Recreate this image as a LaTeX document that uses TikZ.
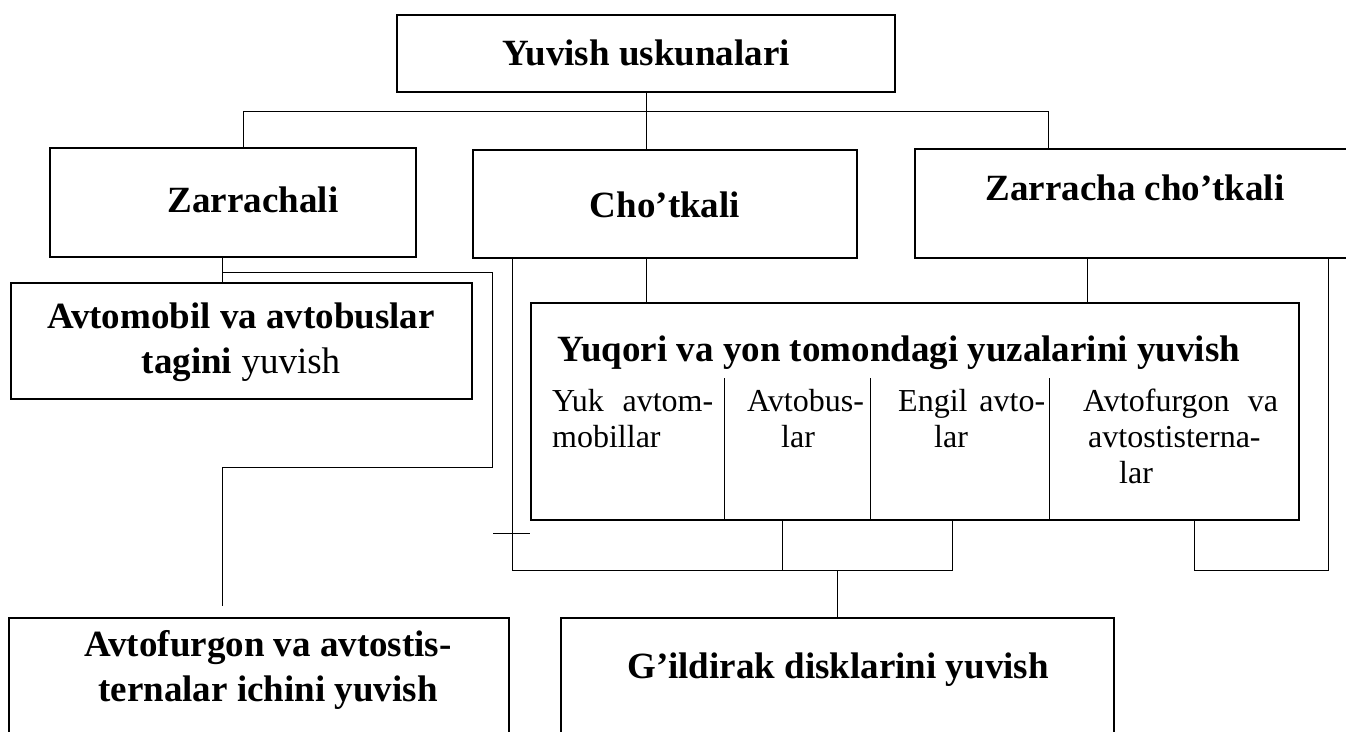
\documentclass[tikz,border=0pt]{standalone}
\usepackage{fontspec}
\setmainfont{Liberation Serif}
\usetikzlibrary{positioning,calc}

\tikzset{
  box/.style={draw, line width=1.6pt, inner sep=0pt},
  link/.style={line width=1pt},
  head/.style={font=\fontsize{37}{45}\selectfont\bfseries, align=center, inner sep=0pt},
  col/.style={font=\fontsize{32}{36}\selectfont, align=left, inner sep=0pt, anchor=north west},
}

\begin{document}
\begin{tikzpicture}[x=1pt,y=-1pt]
  \useasboundingbox (0,0) rectangle (1346,731);
  \clip (0,0) rectangle (1346,731);

  % boxes
  \node[box, minimum width=498pt, minimum height=77pt]  (top)  at (646,53.5) {};
  \node[box, minimum width=366pt, minimum height=109pt] (zarr) at (233,202.5) {};
  \node[box, minimum width=384pt, minimum height=108pt] (chot) at (665,204) {};
  \node[box, minimum width=455pt, minimum height=109pt] (zcho) at (1142.5,203.5) {};
  \node[box, minimum width=461pt, minimum height=116pt] (avto) at (241.5,341) {};
  \node[box, minimum width=768pt, minimum height=217pt] (yuq)  at (915,411.5) {};
  \node[box, minimum width=500pt, minimum height=142pt] (ichi) at (259,689) {};
  \node[box, minimum width=553pt, minimum height=142pt] (gild) at (837.5,689) {};

  % texts
  \node[head] (top-t)  at (646,53)  {Yuvish uskunalari};
  \node[head] (zarr-t) at (253,200) {Zarrachali};
  \node[head] (chot-t) at (665,205) {Cho'tkali};
  \node[head] (zcho-t) at (1135,188) {Zarracha cho'tkali};
  \node[head] (avto-t) at (241,342) {Avtomobil va avtobuslar\\tagini \textmd{yuvish}};
  \node[head] (yuq-t)  at (899,353) {Yuqori va yon tomondagi yuzalarini yuvish};
  \node[head] (ichi-t) at (268,670) {Avtofurgon va avtostis-\\ternalar ichini yuvish};
  \node[head] (gild-t) at (838,670) {G'ildirak disklarini yuvish};

  % columns inside the lower middle box
  \node[col, text width=161pt] (yuk)   at (552,389)  {Yuk\hfill avtom-\\mobillar};
  \node[col, text width=125pt] (avtob) at (747,389)  {Avtobus-\\\hspace*{34pt}lar};
  \node[col, text width=147pt] (engil) at (898,389)  {Engil\hfill avto-\\\hspace*{36pt}lar};
  \node[col, text width=195pt] (furg)  at (1083,389) {Avtofurgon\hfill va\\\hspace*{5pt}avtostisterna-\\\hspace*{36pt}lar};
  \foreach \x in {724,870,1049}
    \draw[link] ({\x},378) -- ({\x},520);

  % links
  \coordinate (busL) at (243,111);
  \coordinate (busR) at (1048,111);
  \draw[link] (top.south) -- (top.south |- chot.north);
  \draw[link] (busL |- zarr.north) -- (busL) -- (busR) -- (busR |- zcho.north);

  \coordinate (l1) at (222,272);
  \coordinate (l2) at (492,467);
  \coordinate (l3) at (222,606);
  \draw[link] (l1 |- zarr.south) -- (l1 |- avto.north);
  \draw[link] (l1) -| (l2) -| (l3);

  \coordinate (m1) at (512,570);
  \coordinate (m2) at (952,570);
  \coordinate (m3) at (782,570);
  \coordinate (tk) at (493,533);
  \draw[link] (m1 |- chot.south) -- (m1) -- (m2) -- (m2 |- yuq.south);
  \draw[link] (m3 |- yuq.south) -- (m3);
  \draw[link] (gild.north |- m1) -- (gild.north);
  \draw[link] (tk) -- (tk -| yuq.west);
  \draw[link] (top.south |- chot.south) -- (top.south |- yuq.north);

  \coordinate (r1) at (1087,303);
  \coordinate (r2) at (1328,570);
  \coordinate (r3) at (1194,570);
  \draw[link] (r1 |- zcho.south) -- (r1 |- yuq.north);
  \draw[link] (r2 |- zcho.south) -- (r2) -- (r3) -- (r3 |- yuq.south);
\end{tikzpicture}
\end{document}
